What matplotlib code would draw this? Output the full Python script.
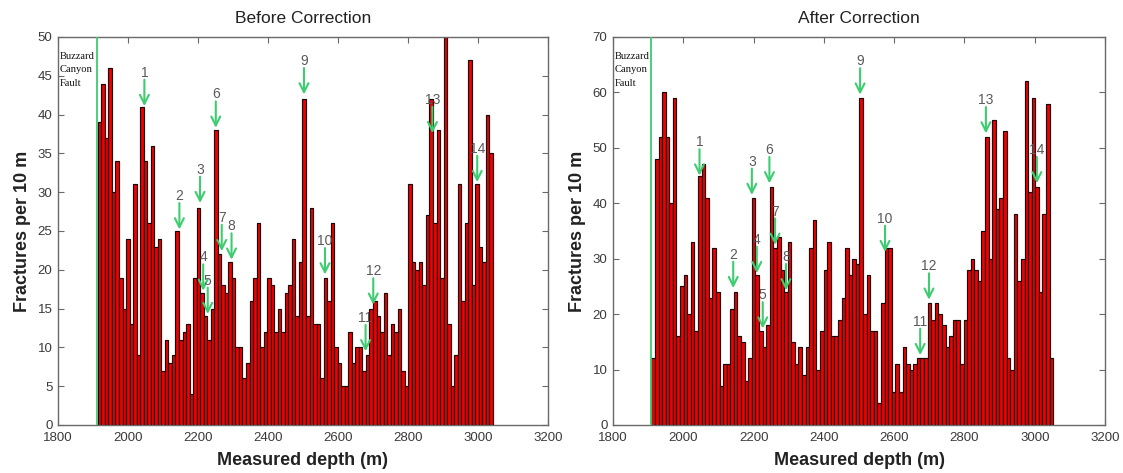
import numpy as np
import matplotlib
matplotlib.use("Agg")
import matplotlib.pyplot as plt

# ---------------- data ----------------
bin_width_before = 10.08  # m (as drawn)
bin_width_after = 10.21   # m (as drawn)
start_before = 1914
start_after = 1909
fault_depth_before = 1913
fault_depth_after = 1909

before_counts = [39, 44, 37, 46, 30, 34, 19, 15, 24, 13,
                 31, 9, 41, 34, 26, 36, 23, 24, 7, 11,
                 8, 9, 25, 11, 12, 13, 4, 19, 28, 17,
                 14, 11, 15, 38, 22, 18, 17, 21, 19, 10,
                 10, 6, 8, 16, 19, 26, 10, 12, 19, 18,
                 12, 15, 12, 17, 18, 24, 14, 21, 42, 14,
                 28, 13, 13, 6, 19, 16, 26, 10, 8, 5,
                 5, 12, 8, 10, 10, 7, 9, 15, 16, 14,
                 12, 17, 9, 13, 12, 15, 7, 5, 31, 21,
                 20, 21, 18, 27, 42, 26, 38, 19, 50, 13,
                 5, 9, 31, 16, 26, 47, 18, 31, 23, 21,
                 40, 35]

after_counts = [12, 48, 52, 60, 52, 40, 59, 16, 25, 27,
                20, 33, 17, 45, 47, 41, 23, 32, 24, 7,
                11, 11, 21, 24, 16, 15, 8, 12, 41, 27,
                17, 14, 18, 43, 32, 34, 28, 24, 33, 15,
                11, 14, 9, 14, 32, 37, 10, 17, 28, 33,
                16, 16, 19, 23, 32, 27, 30, 29, 59, 20,
                27, 17, 17, 4, 22, 32, 32, 6, 11, 6,
                14, 11, 10, 11, 12, 12, 12, 22, 19, 22,
                20, 18, 14, 16, 19, 19, 11, 19, 28, 30,
                28, 26, 35, 52, 30, 55, 39, 41, 53, 12,
                10, 38, 26, 30, 62, 42, 59, 43, 24, 38,
                58, 12]

arrow_labels = ["1", "2", "3", "4", "5", "6", "7", "8", "9", "10", "11", "12", "13", "14"]
arrow_depth_before = [2047, 2147, 2206, 2215, 2228, 2251, 2268, 2296, 2503, 2563, 2679, 2701, 2870, 2998]
arrow_tip_before = [41.1, 25.2, 28.6, 17.3, 14.3, 38.3, 22.4, 21.3, 42.6, 19.4, 9.5, 15.5, 37.6, 31.3]
arrow_depth_after = [2046, 2142, 2195, 2209, 2226, 2245, 2261, 2292, 2503, 2574, 2674, 2699, 2861, 3006]
arrow_tip_after = [45.0, 24.7, 41.5, 27.4, 17.4, 43.6, 32.5, 24.3, 59.6, 31.2, 12.6, 22.6, 52.6, 43.6]

titles = ["Before Correction", "After Correction"]
xlabel_text = "Measured depth (m)"
ylabel_text = "Fractures per 10 m"
fault_text = "Buzzard\nCanyon\nFault"
x_ticks = [1800, 2000, 2200, 2400, 2600, 2800, 3000, 3200]
y_ticks_before = [0, 5, 10, 15, 20, 25, 30, 35, 40, 45, 50]
y_ticks_after = [0, 10, 20, 30, 40, 50, 60, 70]

# ---------------- styling ----------------
GREEN = "#3dcc70"
TICK_COLOR = "#3a3a3a"
SPINE_COLOR = "#6a6a6a"
plt.rcParams["font.family"] = ["Liberation Sans", "DejaVu Sans"]

fig = plt.figure(figsize=(11.23, 4.73), dpi=100)
ax_left = fig.add_axes([0.0516, 0.1015, 0.4363, 0.8203])
ax_right = fig.add_axes([0.5459, 0.1015, 0.4381, 0.8203])

panels = [
    (ax_left, before_counts, start_before, bin_width_before, fault_depth_before,
     y_ticks_before, arrow_depth_before, arrow_tip_before, titles[0]),
    (ax_right, after_counts, start_after, bin_width_after, fault_depth_after,
     y_ticks_after, arrow_depth_after, arrow_tip_after, titles[1]),
]

for ax, counts, start, bw, fault, yt, adepth, atip, title in panels:
    counts = np.asarray(counts, dtype=float)
    lefts = start + bw * np.arange(len(counts))
    ax.bar(lefts, counts, width=bw, align="edge",
           color="#f00000", edgecolor="#1a0000", linewidth=0.85, zorder=2)
    ymax = yt[-1]
    ax.set_xlim(x_ticks[0], x_ticks[-1])
    ax.set_ylim(0, ymax)
    ax.axvline(fault, color=GREEN, lw=1.3, zorder=3)

    ax.set_xticks(x_ticks)
    ax.set_yticks(yt)
    ax.tick_params(direction="in", length=4, width=0.8, color=SPINE_COLOR,
                   labelcolor=TICK_COLOR, labelsize=9.5,
                   top=True, right=True)
    ax.tick_params(axis="x", pad=5)
    ax.tick_params(axis="y", pad=4)
    for sp in ax.spines.values():
        sp.set_color(SPINE_COLOR)
        sp.set_linewidth(1.0)

    ax.set_title(title, fontsize=12.5, color="#222222", pad=10)
    ax.set_xlabel(xlabel_text, fontsize=13, fontweight="bold", color="#222222", labelpad=6)
    ax.set_ylabel(ylabel_text, fontsize=13, fontweight="bold", color="#222222", labelpad=5)

    ax.text(0.003, 0.962, fault_text, transform=ax.transAxes, ha="left", va="top",
            fontsize=7.6, family=["Liberation Serif", "DejaVu Serif"],
            linespacing=1.65, color="#111111", zorder=4)

    for lab, d, tip in zip(arrow_labels, adepth, atip):
        ax.annotate("", xy=(d, tip), xytext=(0, 19), textcoords="offset points",
                    arrowprops=dict(arrowstyle="->", color=GREEN, lw=1.5,
                                    mutation_scale=16, shrinkA=0, shrinkB=0),
                    zorder=5, annotation_clip=False)
        ax.annotate(lab, xy=(d, tip), xytext=(0, 24), textcoords="offset points",
                    ha="center", va="center", fontsize=10, color="#5a5a5a",
                    zorder=5, annotation_clip=False)

fig.savefig("out.png", dpi=100)
